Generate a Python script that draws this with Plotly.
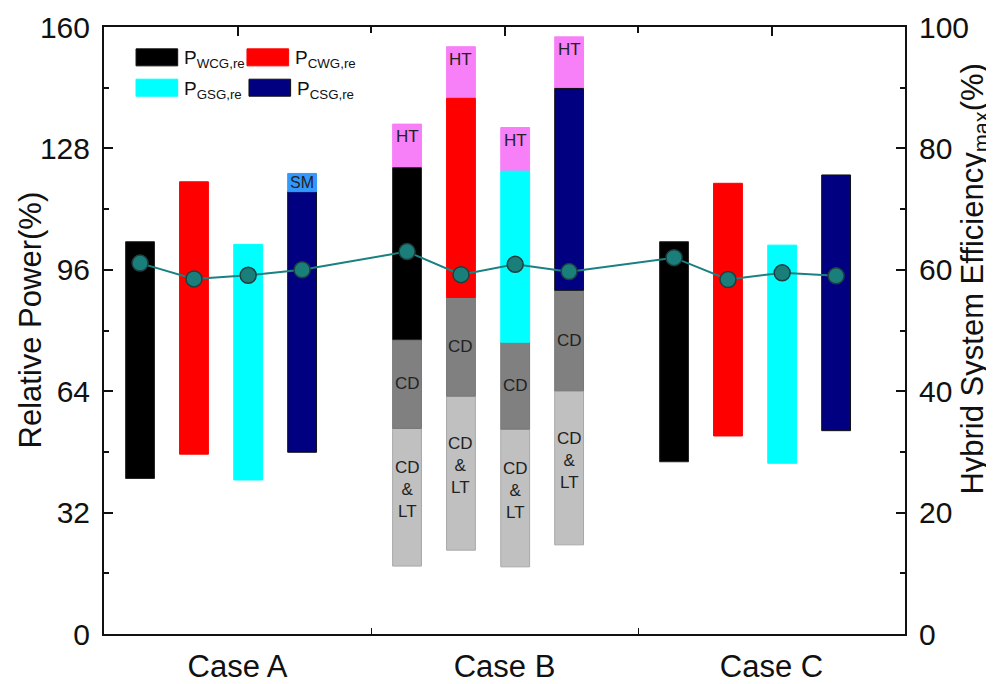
import plotly.graph_objects as go

# ---------------- data ----------------
cases = ["Case A", "Case B", "Case C"]
generators = ["WCG", "CWG", "GSG", "CSG"]

# main (coloured) floating bar segments: low / high per case
wcg_low = [41.0, 77.6, 45.4]
wcg_high = [103.4, 122.9, 103.4]
cwg_low = [47.4, 88.7, 52.2]
cwg_high = [119.2, 141.2, 118.8]
gsg_low = [40.6, 76.9, 45.0]
gsg_high = [102.7, 122.0, 102.5]
csg_low = [47.9, 90.6, 53.6]
csg_high = [116.6, 143.8, 121.0]

# Case A, CSG: SM segment top
sm_top = 121.4

# Case B extra segments (WCG, CWG, GSG, CSG)
b_cdlt_low = [17.9, 22.1, 17.7, 23.5]
b_cd_low = [54.2, 62.7, 54.0, 64.1]
b_ht_top = [134.4, 154.8, 133.5, 157.4]

# Hybrid system efficiency (%) per case, per generator
eff_a = [61.1, 58.5, 59.1, 60.0]
eff_b = [63.0, 59.2, 60.9, 59.7]
eff_c = [62.0, 58.4, 59.5, 59.0]

left_ticks = [0, 32, 64, 96, 128, 160]
right_ticks = [0, 20, 40, 60, 80, 100]

# ---------------- styling ----------------
FONT = "Liberation Sans, Arial, sans-serif"
colors = {"WCG": "#000000", "CWG": "#FF0000", "GSG": "#00FFFF", "CSG": "#000080"}
edge = {"WCG": "#222222", "CWG": "#FF0000", "GSG": "#00FFFF", "CSG": "#111111"}
HT_COLOR = "#F77FF7"
SM_COLOR = "#3399FF"
CD_COLOR = "#808080"
CDLT_COLOR = "#C0C0C0"
offsets = [0.135, 0.337, 0.54, 0.742]
BW = 0.108

lows = {"WCG": wcg_low, "CWG": cwg_low, "GSG": gsg_low, "CSG": csg_low}
highs = {"WCG": wcg_high, "CWG": cwg_high, "GSG": gsg_high, "CSG": csg_high}

fig = go.Figure()
annotations = []

def lab(x, y, text, yanchor="middle", yshift=0, size=17):
    annotations.append(dict(x=x, y=y, xref="x", yref="y", text=text, showarrow=False,
                            yanchor=yanchor, yshift=yshift,
                            font=dict(family=FONT, size=size, color="#222222")))

# Case B lower grey segments + HT
for gi, g in enumerate(generators):
    xb = 1 + offsets[gi]
    fig.add_trace(go.Bar(x=[xb], y=[b_cd_low[gi] - b_cdlt_low[gi]], base=[b_cdlt_low[gi]],
                         width=BW, marker=dict(color=CDLT_COLOR, line=dict(color="#A8A8A8", width=1)),
                         showlegend=False, hoverinfo="skip"))
    fig.add_trace(go.Bar(x=[xb], y=[lows[g][1] - b_cd_low[gi]], base=[b_cd_low[gi]],
                         width=BW, marker=dict(color=CD_COLOR, line=dict(color="#777777", width=1)),
                         showlegend=False, hoverinfo="skip"))
    fig.add_trace(go.Bar(x=[xb], y=[b_ht_top[gi] - highs[g][1]], base=[highs[g][1]],
                         width=BW, marker=dict(color=HT_COLOR, line=dict(color=HT_COLOR, width=1)),
                         showlegend=False, hoverinfo="skip"))
    lab(xb, (b_cdlt_low[gi] + b_cd_low[gi]) / 2 + 2, "CD<br>&<br>LT")
    lab(xb, (b_cd_low[gi] + lows[g][1]) / 2, "CD")
    lab(xb, b_ht_top[gi], "HT", yanchor="top", yshift=-1)

# main generator bars
for gi, g in enumerate(generators):
    xs = [ci + offsets[gi] for ci in range(len(cases))]
    fig.add_trace(go.Bar(x=xs, y=[h - l for h, l in zip(highs[g], lows[g])], base=lows[g],
                         width=BW, marker=dict(color=colors[g], line=dict(color=edge[g], width=1)),
                         name=g, showlegend=False, hoverinfo="skip"))

# SM segment (Case A, CSG)
xsm = 0 + offsets[3]
fig.add_trace(go.Bar(x=[xsm], y=[sm_top - csg_high[0]], base=[csg_high[0]], width=BW,
                     marker=dict(color=SM_COLOR, line=dict(color=SM_COLOR, width=1)),
                     showlegend=False, hoverinfo="skip"))
lab(xsm, (sm_top + csg_high[0]) / 2, "SM", size=16)

# efficiency line
ex, ey = [], []
for ci, effs in enumerate([eff_a, eff_b, eff_c]):
    for gi in range(len(generators)):
        ex.append(ci + offsets[gi])
        ey.append(effs[gi])
fig.add_trace(go.Scatter(x=ex, y=ey, xaxis="x2", yaxis="y2", mode="lines+markers",
                         line=dict(color="#1A8080", width=2),
                         marker=dict(size=16, color="#1A7F7A", line=dict(color="#1F3F3F", width=1.5)),
                         showlegend=False, hoverinfo="skip"))

# legend (drawn manually with paper shapes)
shapes = []
leg = [("WCG", 0.040, 0.964), ("CWG", 0.1785, 0.964), ("GSG", 0.040, 0.914), ("CSG", 0.181, 0.914)]
for g, lx, ly in leg:
    shapes.append(dict(type="rect", xref="paper", yref="paper", x0=lx, x1=lx + 0.052,
                       y0=ly - 0.028, y1=ly, fillcolor=colors[g],
                       line=dict(color="#111111" if g in ("WCG", "CSG") else colors[g], width=1)))
    annotations.append(dict(x=lx + 0.057, y=ly + 0.006, xref="paper", yref="paper",
                            text="P<sub>%s,re</sub>" % g, showarrow=False,
                            xanchor="left", yanchor="top",
                            font=dict(family=FONT, size=19, color="#111111")))

# axis titles as rotated annotations (precise placement)
annotations.append(dict(x=-0.092, y=0.517, xref="paper", yref="paper", text="Relative Power(%)",
                        textangle=-90, showarrow=False, xanchor="center", yanchor="middle",
                        font=dict(family=FONT, size=31, color="#111111")))
annotations.append(dict(x=1.087, y=0.585, xref="paper", yref="paper",
                        text="Hybrid System Efficiency<sub>max</sub>(%)",
                        textangle=-90, showarrow=False, xanchor="center", yanchor="middle",
                        font=dict(family=FONT, size=31, color="#111111")))

AX = dict(showgrid=False, zeroline=False, showline=True, linecolor="#111111", linewidth=2,
          automargin=False)

# the page body has an 8px margin, so compensate here
fig.update_layout(
    width=994, height=684,
    margin=dict(l=96, r=97, t=19, b=58),
    paper_bgcolor="white", plot_bgcolor="white",
    barmode="overlay",
    font=dict(family=FONT, color="#111111"),
    shapes=shapes,
    annotations=annotations,
    xaxis=dict(range=[0, 3], tickvals=[0.5, 1.5, 2.5], ticktext=cases, ticks="",
               tickfont=dict(size=31, family=FONT), ticklabelstandoff=4,
               minor=dict(tickvals=[1, 2], ticks="inside", ticklen=6, tickcolor="#111111", showgrid=False),
               **AX),
    xaxis2=dict(range=[0, 3], overlaying="x", side="top", anchor="y", tickvals=[0.5, 1.5, 2.5],
                showticklabels=False, ticks="inside", ticklen=9, tickwidth=2, tickcolor="#111111",
                minor=dict(tickvals=[1, 2], ticks="inside", ticklen=6, tickcolor="#111111", showgrid=False),
                **AX),
    yaxis=dict(range=[0, 160], tickvals=left_ticks, ticks="inside", ticklen=9, tickwidth=2,
               tickcolor="#111111", tickfont=dict(size=30, family=FONT), ticklabelstandoff=6,
               minor=dict(dtick=16, tick0=0, ticks="inside", ticklen=5, tickcolor="#111111", showgrid=False),
               **AX),
    yaxis2=dict(range=[0, 100], tickvals=right_ticks, overlaying="y", side="right", anchor="x2",
                ticks="inside", ticklen=9, tickwidth=2, tickcolor="#111111",
                tickfont=dict(size=30, family=FONT), ticklabelstandoff=6,
                minor=dict(dtick=10, tick0=0, ticks="inside", ticklen=5, tickcolor="#111111", showgrid=False),
                **AX),
)

fig.write_html("out.html")
